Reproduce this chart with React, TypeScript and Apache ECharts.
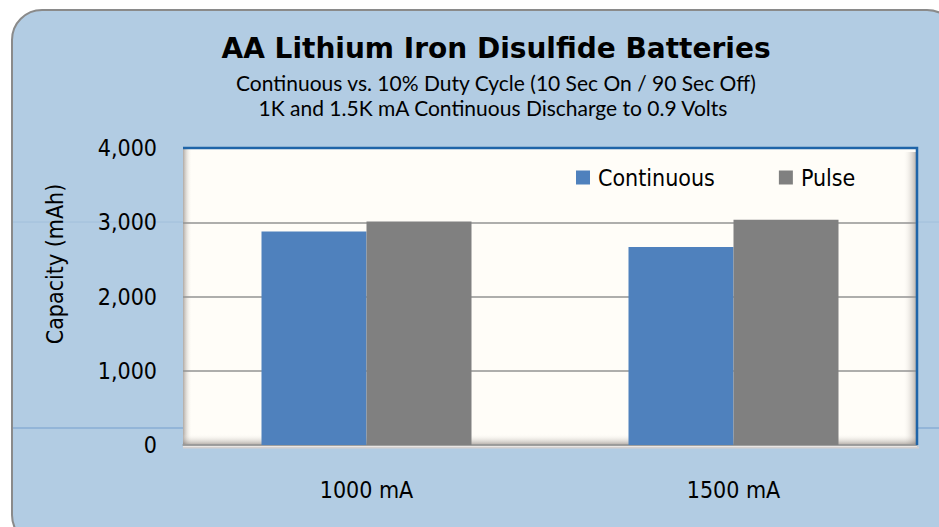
import React, { useEffect, useRef } from "react";
import * as echarts from "echarts";

const categories = ["1000 mA", "1500 mA"];
const seriesNames = ["Continuous", "Pulse"];
const continuousValues = [2875, 2665];
const pulseValues = [3010, 3035];
const titleText = "AA Lithium Iron Disulfide Batteries";
const subtitleLines = [
  "Continuous vs. 10% Duty Cycle (10 Sec On / 90 Sec Off)",
  "1K and 1.5K mA Continuous Discharge to 0.9 Volts",
];
const yAxisTitle = "Capacity (mAh)";
const yMin = 0;
const yMax = 4000;
const yInterval = 1000;

const AXIS_FONT = "'DejaVu Sans Condensed', 'DejaVu Sans', sans-serif";

export default function App() {
  const ref = useRef<HTMLDivElement>(null);

  useEffect(() => {
    if (!ref.current) return;
    const chart = echarts.init(ref.current, undefined, { renderer: "svg" });
    const L = 183, T = 148, R = 917, B = 445;
    const shadow = "rgba(110,100,95,0.55)";
    const option: any = {
      animation: false,
      grid: { left: L, top: T, right: 939 - R, bottom: 527 - B, containLabel: false },
      legend: {
        data: seriesNames,
        left: 571,
        top: 161,
        itemWidth: 14,
        itemHeight: 14,
        itemGap: 64,
        icon: "rect",
        textStyle: { fontFamily: AXIS_FONT, fontSize: 23, color: "#000", padding: [0, 0, 0, 3] },
      },
      xAxis: {
        type: "category",
        data: categories,
        axisTick: { show: false },
        axisLine: { show: true, lineStyle: { color: "#9a9a9a", width: 1.5 } },
        axisLabel: { margin: 33, fontFamily: AXIS_FONT, fontSize: 23, color: "#000" },
      },
      yAxis: {
        type: "value",
        min: yMin,
        max: yMax,
        interval: yInterval,
        axisLine: { show: false },
        axisTick: { show: false },
        axisLabel: {
          margin: 26,
          fontFamily: AXIS_FONT,
          fontSize: 23,
          color: "#000",
          formatter: (v: number) => v.toLocaleString("en-US"),
        },
        splitLine: { show: true, lineStyle: { color: "#939393", width: 1.5 } },
      },
      series: [
        {
          name: seriesNames[0],
          type: "bar",
          data: continuousValues,
          barWidth: 105,
          barGap: "0%",
          itemStyle: { color: "#4f81bd" },
        },
        {
          name: seriesNames[1],
          type: "bar",
          data: pulseValues,
          barWidth: 105,
          barGap: "0%",
          itemStyle: { color: "#808080" },
        },
      ],
      graphic: [
        {
          type: "rect",
          z: -20,
          shape: { x: 12, y: 10, width: 945, height: 535, r: 30 },
          style: { fill: "#b2cce3", stroke: "#8a8a8a", lineWidth: 2 },
        },
        {
          type: "line",
          z: -19,
          shape: { x1: 13, y1: 428, x2: 939, y2: 428 },
          style: { stroke: "rgba(120,160,205,0.7)", lineWidth: 1.5 },
        },
        {
          type: "line",
          z: -19,
          shape: { x1: 13, y1: 222, x2: 939, y2: 222 },
          style: { stroke: "rgba(150,185,215,0.6)", lineWidth: 1 },
        },
        {
          type: "rect",
          z: -18,
          shape: { x: L, y: T, width: R - L, height: B - T + 2 },
          style: { fill: "#fffdf8" },
        },
        {
          type: "rect",
          z: -17,
          shape: { x: L, y: T, width: 9, height: B - T },
          style: {
            fill: new echarts.graphic.LinearGradient(0, 0, 1, 0, [
              { offset: 0, color: shadow },
              { offset: 1, color: "rgba(255,253,248,0)" },
            ]),
          },
        },
        {
          type: "rect",
          z: -17,
          shape: { x: R - 14, y: T + 4, width: 14, height: B - T - 4 },
          style: {
            fill: new echarts.graphic.LinearGradient(0, 0, 1, 0, [
              { offset: 0, color: "rgba(255,253,248,0)" },
              { offset: 1, color: shadow },
            ]),
          },
        },
        {
          type: "rect",
          z: -17,
          shape: { x: L, y: B - 11, width: R - L, height: 11 },
          style: {
            fill: new echarts.graphic.LinearGradient(0, 0, 0, 1, [
              { offset: 0, color: "rgba(255,253,248,0)" },
              { offset: 1, color: shadow },
            ]),
          },
        },
        {
          type: "line",
          z: -17,
          shape: { x1: L, y1: B + 2.5, x2: R + 2, y2: B + 2.5 },
          style: { stroke: "#d4d0d0", lineWidth: 2 },
        },
        {
          type: "polyline",
          z: 20,
          shape: { points: [[L, T], [R, T], [R, B]] },
          style: { stroke: "#1f64a8", lineWidth: 2.5, fill: null },
        },
        {
          type: "text",
          z: 20,
          x: 496,
          y: 48,
          style: {
            text: titleText,
            fill: "#000",
            font: "bold 28px 'DejaVu Sans', sans-serif",
            textAlign: "center",
            textVerticalAlign: "middle",
          },
        },
        {
          type: "text",
          z: 20,
          x: 496,
          y: 82,
          style: {
            text: subtitleLines[0],
            fill: "#000",
            font: "21px Lato, sans-serif",
            textAlign: "center",
            textVerticalAlign: "middle",
          },
        },
        {
          type: "text",
          z: 20,
          x: 493,
          y: 107,
          style: {
            text: subtitleLines[1],
            fill: "#000",
            font: "21px Lato, sans-serif",
            textAlign: "center",
            textVerticalAlign: "middle",
          },
        },
        {
          type: "text",
          z: 20,
          x: 55,
          y: 264,
          rotation: Math.PI / 2,
          style: {
            text: yAxisTitle,
            fill: "#000",
            font: "23px 'DejaVu Sans Condensed', 'DejaVu Sans', sans-serif",
            textAlign: "center",
            textVerticalAlign: "middle",
          },
        },
      ],
    };
    chart.setOption(option);
    return () => chart.dispose();
  }, []);

  return (
    <div
      ref={ref}
      style={{ position: "fixed", left: 0, top: 0, width: 939, height: 527, background: "#fff" }}
    />
  );
}
